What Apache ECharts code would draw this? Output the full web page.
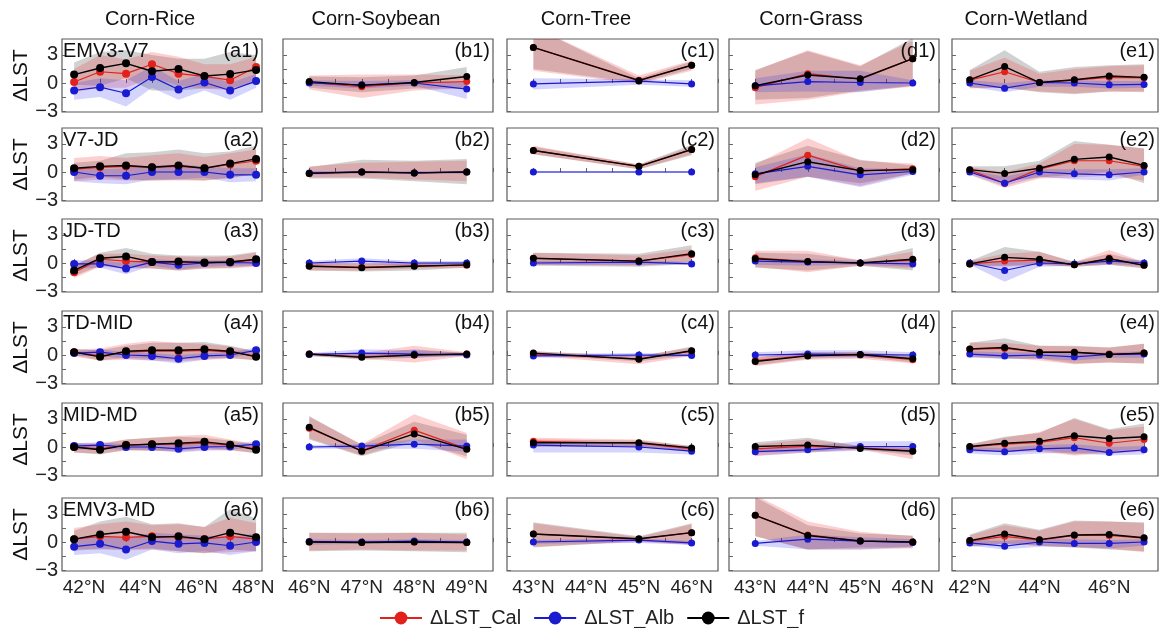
<!DOCTYPE html>
<html><head><meta charset="utf-8">
<script src="https://cdn.jsdelivr.net/npm/echarts@6/dist/echarts.min.js"></script>
<style>html,body{margin:0;padding:0;background:#fff}#c{width:1159px;height:628px}</style>
</head><body><div id="c"></div>
<script>
// ---------------- DATA ----------------
const columnTitles = ['Corn-Rice', 'Corn-Soybean', 'Corn-Tree', 'Corn-Grass', 'Corn-Wetland'];
const periods = ['EMV3-V7', 'V7-JD', 'JD-TD', 'TD-MID', 'MID-MD', 'EMV3-MD'];
const letters = ['a', 'b', 'c', 'd', 'e'];
const seriesNames = ['ΔLST_Cal', 'ΔLST_Alb', 'ΔLST_f'];
const yLabelValues = [-3, 0, 3];
const yTickValues = [-3, -1.5, 0, 1.5, 3];

const latA = [41.65, 42.57, 43.49, 44.41, 45.35, 46.27, 47.18, 48.1];
const latB = [46, 47, 48, 49];
const latC = [43, 45, 46];
const latD = [43, 44, 45, 46];
const latE = [42, 43, 44, 45, 46, 47];
const xLabelsA = [42, 44, 46, 48];
const xLabelsB = [46, 47, 48, 49];
const xLabelsC = [43, 44, 45, 46];
const xLabelsD = [43, 44, 45, 46];
const xLabelsE = [42, 44, 46];

// Column a (Corn-Rice), rows = periods
const calA = [[0.1,1.2,1.0,2.0,1.0,0.7,0.3,1.7],[0.3,0.5,0.6,0.5,0.6,0.4,0.8,1.2],[-1.0,0.4,0.2,0.1,0.1,0.0,0.1,0.3],[0.3,-0.1,0.3,0.4,0.4,0.5,0.3,-0.1],[0.0,-0.2,0.2,0.3,0.3,0.4,0.2,-0.2],[0.3,0.6,0.5,0.6,0.5,0.3,0.6,0.3]];
const calLoA = [[-1.0,-0.5,-0.5,0.6,-0.3,-0.6,-0.8,0.2],[-1.0,-0.8,-0.9,-0.9,-0.9,-0.9,-0.7,-0.2],[-1.6,-0.4,-0.6,-0.6,-0.8,-0.6,-0.6,-0.4],[-0.2,-0.6,-0.5,-0.6,-0.7,-0.5,-0.4,-0.5],[-0.6,-0.7,-0.4,-0.4,-0.5,-0.3,-0.4,-0.6],[-0.8,-0.7,-0.9,-0.8,-1.0,-1.2,-1.1,-1.0]];
const calHiA = [[1.5,3.0,2.5,3.3,2.8,2.0,2.0,2.8],[1.5,1.7,1.5,1.8,2.0,1.6,2.0,2.4],[-0.2,1.0,1.0,0.8,0.7,0.6,0.7,1.1],[0.6,0.7,1.2,1.5,1.3,1.2,0.9,0.4],[0.4,0.4,0.8,1.0,1.2,1.3,0.8,0.3],[1.5,1.9,2.2,1.8,1.9,1.6,2.6,2.0]];
const albA = [[-0.8,-0.45,-1.1,0.65,-0.7,0.05,-0.8,0.2],[0.0,-0.4,-0.4,0.0,0.0,0.0,-0.3,-0.3],[-0.1,-0.1,-0.6,0.1,-0.2,0.0,0.05,0.0],[0.2,0.3,0.0,-0.1,-0.4,-0.1,0.0,0.5],[0.1,0.2,0.0,0.0,-0.2,0.0,0.05,0.3],[-0.5,-0.2,-0.8,0.1,-0.2,-0.1,-0.4,0.0]];
const albLoA = [[-1.8,-1.5,-2.5,-0.5,-1.8,-0.8,-1.8,-0.5],[-1.0,-1.2,-1.3,-0.8,-0.8,-0.6,-1.1,-1.0],[-0.6,-0.5,-1.2,-0.3,-0.7,-0.4,-0.3,-0.3],[-0.1,-0.1,-0.4,-0.6,-0.9,-0.5,-0.3,0.2],[-0.3,-0.2,-0.3,-0.3,-0.6,-0.4,-0.3,0.0],[-1.4,-1.2,-1.9,-0.8,-1.2,-1.0,-1.4,-1.0]];
const albHiA = [[0.0,0.5,0.3,1.8,0.2,1.0,0.0,1.0],[0.5,0.3,0.4,0.7,0.8,0.6,0.4,0.4],[0.3,0.3,0.0,0.4,0.3,0.3,0.3,0.3],[0.4,0.6,0.3,0.2,0.0,0.2,0.3,0.8],[0.4,0.5,0.3,0.3,0.2,0.3,0.3,0.6],[0.3,0.6,0.4,1.0,0.8,0.7,0.5,0.9]];
const fA = [[0.9,1.6,2.1,1.25,1.5,0.75,0.95,1.4],[0.4,0.6,0.7,0.5,0.7,0.4,0.9,1.4],[-0.8,0.5,0.7,0.1,0.15,0.05,0.1,0.4],[0.3,-0.2,0.4,0.5,0.5,0.6,0.4,-0.2],[0.0,-0.3,0.2,0.3,0.4,0.55,0.25,-0.3],[0.3,0.8,1.1,0.5,0.6,0.3,1.0,0.5]];
const fLoA = [[-0.2,-0.3,0.5,-0.8,-0.8,-0.6,-0.6,0.0],[-0.8,-0.5,-0.8,-0.9,-0.8,-0.9,-0.6,-0.2],[-1.4,-0.3,-0.4,-0.6,-0.8,-0.6,-0.5,-0.3],[0.0,-0.6,-0.3,-0.4,-0.5,-0.3,-0.3,-0.6],[-0.6,-0.8,-0.3,-0.4,-0.4,-0.1,-0.3,-0.7],[-0.9,-0.8,-0.8,-0.7,-1.0,-1.2,-0.8,-1.0]];
const fHiA = [[2.2,3.3,3.5,3.0,2.6,2.6,3.3,3.0],[1.0,1.2,2.0,2.1,2.4,2.0,2.2,2.8],[-0.3,1.1,1.6,1.0,0.8,0.8,0.8,1.2],[0.6,0.5,1.0,1.3,1.3,1.4,1.0,0.4],[0.4,0.3,0.8,1.0,1.1,1.0,0.7,0.2],[1.2,2.2,2.7,1.9,2.0,1.6,3.5,2.5]];

// Column b (Corn-Soybean)
const calB = [[0.05,-0.4,0.0,0.15],[-0.15,0.0,-0.1,0.0],[-0.3,-0.45,-0.3,-0.25],[0.1,-0.2,0.0,0.1],[2.0,-0.4,1.8,-0.2],[0.0,-0.05,0.0,-0.05]];
const calLoB = [[-0.7,-1.6,-0.8,-0.6],[-0.6,-0.6,-0.8,-1.0],[-0.8,-0.8,-0.6,-0.5],[-0.1,-0.4,-0.8,-0.1],[0.9,-0.9,0.8,-1.3],[-0.9,-0.8,-0.9,-0.9]];
const calHiB = [[0.8,0.9,0.9,0.8],[0.6,1.0,1.1,1.2],[0.0,0.0,0.0,0.0],[0.2,0.2,1.0,0.3],[3.2,0.3,3.5,1.5],[1.0,0.9,1.0,0.8]];
const albB = [[0.0,-0.2,0.0,-0.65],[-0.1,0.0,-0.1,0.0],[0.0,0.2,0.0,0.0],[0.05,0.2,0.1,0.0],[0.0,0.1,0.3,0.1],[0.05,0.0,0.1,0.0]];
const albLoB = [[-0.3,-0.6,-0.3,-1.7],[-0.3,-0.2,-0.2,-0.2],[-0.2,-0.1,-0.3,-0.3],[-0.1,-0.2,-0.3,-0.1],[-0.2,-0.2,-0.2,-0.5],[-0.3,-0.2,-0.2,-0.2]];
const albHiB = [[0.3,0.2,0.3,0.0],[0.1,0.1,0.1,0.1],[0.2,0.5,0.2,0.2],[0.2,0.6,0.5,0.2],[0.2,0.3,0.8,0.8],[0.3,0.2,0.3,0.2]];
const fB = [[0.15,-0.25,0.05,0.7],[-0.15,0.0,-0.1,0.0],[-0.35,-0.5,-0.35,-0.2],[0.1,-0.25,0.0,0.1],[2.1,-0.45,1.4,-0.25],[0.0,-0.05,0.0,-0.05]];
const fLoB = [[-0.5,-1.0,-0.6,-0.6],[-0.7,-0.7,-1.0,-1.3],[-0.8,-0.9,-0.8,-0.5],[-0.1,-0.5,-0.3,0.0],[0.8,-1.0,0.5,-1.0],[-1.0,-0.9,-1.0,-1.1]];
const fHiB = [[0.7,0.6,0.8,1.7],[0.5,1.3,1.2,1.4],[0.0,-0.1,0.0,0.1],[0.2,0.1,0.6,0.2],[3.3,0.2,2.7,1.3],[1.0,1.0,1.0,1.0]];

// Column c (Corn-Tree)
const calC = [[3.8,0.3,1.9],[2.3,0.6,2.4],[0.5,0.2,0.9],[0.1,-0.4,0.4],[0.6,0.4,-0.2],[0.85,0.3,1.0]];
const calLoC = [[1.3,-0.1,1.3],[1.9,0.3,1.9],[-0.2,-0.3,0.1],[-0.1,-1.0,-0.1],[0.1,0.0,-0.5],[-0.5,0.0,-0.3]];
const calHiC = [[6.0,0.8,2.4],[2.8,0.8,2.7],[1.1,0.8,1.5],[0.4,-0.1,0.8],[1.0,0.8,0.1],[2.0,0.5,1.9]];
const albC = [[-0.1,0.2,-0.1],[0.0,0.0,0.0],[0.0,0.1,-0.1],[-0.1,0.0,-0.05],[0.2,0.0,-0.45],[0.0,0.2,-0.1]];
const albLoC = [[-0.7,-0.2,-0.4],[-0.1,-0.1,-0.1],[-0.2,-0.2,-0.2],[-0.3,-0.2,-0.2],[-0.6,-0.6,-0.8],[-0.2,-0.1,-0.3]];
const albHiC = [[0.5,0.4,0.3],[0.1,0.1,0.1],[0.2,0.3,0.1],[0.1,0.2,0.1],[0.5,0.4,0.0],[0.2,0.4,0.1]];
const fC = [[3.8,0.25,1.9],[2.3,0.6,2.4],[0.5,0.2,1.0],[0.2,-0.45,0.45],[0.45,0.45,-0.1],[0.85,0.35,1.0]];
const fLoC = [[1.5,0.0,1.5],[1.9,0.3,1.8],[-0.3,-0.4,-0.1],[0.0,-0.7,0.0],[0.0,0.0,-0.4],[-0.6,0.1,-0.3]];
const fHiC = [[6.0,0.5,2.3],[2.7,0.8,2.9],[1.1,1.0,1.9],[0.4,-0.2,0.9],[0.8,0.7,0.1],[2.1,0.6,2.0]];

// Column d (Corn-Grass)
const calD = [[-0.5,1.0,0.4,2.6],[-0.5,1.8,0.1,0.35],[0.55,0.15,0.0,0.3],[-0.6,-0.05,0.0,-0.5],[-0.2,0.1,-0.1,-0.4],[2.85,0.75,0.1,0.0]];
const calLoD = [[-2.3,-1.8,-0.9,-0.4],[-2.0,-0.5,-1.5,-0.1],[-0.4,-1.0,-0.3,-0.6],[-1.2,-0.5,-0.4,-0.9],[-1.0,-0.6,-0.3,-1.3],[0.6,-0.8,-0.8,-0.7]];
const calHiD = [[1.3,3.5,1.9,4.5],[0.8,3.6,1.2,0.9],[1.3,1.3,0.3,1.2],[-0.2,0.3,0.3,-0.1],[0.3,0.8,0.1,-0.1],[5.0,2.2,1.1,0.6]];
const albD = [[-0.3,0.15,0.05,0.0],[-0.2,0.6,-0.3,0.05],[0.2,0.1,0.0,-0.1],[0.0,0.1,0.05,0.0],[-0.5,-0.3,0.05,0.05],[-0.15,0.3,0.1,-0.05]];
const albLoD = [[-1.0,-0.9,-1.0,-0.3],[-1.2,-0.5,-1.6,-0.3],[-0.2,-0.3,-0.2,-0.4],[-0.2,-0.2,-0.3,-0.3],[-0.9,-0.6,-0.4,-0.6],[-0.4,-0.8,-0.8,-0.5]];
const albHiD = [[0.5,1.3,1.3,0.3],[0.5,1.9,0.4,0.3],[0.5,0.4,0.2,0.2],[0.3,0.5,0.5,0.3],[-0.2,0.1,0.6,0.6],[0.1,0.8,0.5,0.3]];
const fD = [[-0.3,0.85,0.45,2.6],[-0.3,1.1,0.15,0.25],[0.45,0.15,0.0,0.4],[-0.7,-0.1,0.05,-0.4],[0.05,0.2,-0.15,-0.45],[2.85,0.7,0.1,0.0]];
const fLoD = [[-1.8,-1.6,-0.8,-0.3],[-1.3,-0.5,-1.2,-0.2],[-0.5,-0.8,-0.3,-0.8],[-1.1,-0.4,-0.2,-0.8],[-0.6,-0.5,-0.2,-0.9],[0.6,-0.8,-0.6,-0.6]];
const fHiD = [[1.4,3.4,1.8,4.8],[1.0,2.8,1.3,0.7],[1.1,1.0,0.3,1.6],[-0.3,0.3,0.3,0.0],[0.5,1.0,0.1,0.0],[4.8,1.8,0.9,0.7]];

// Column e (Corn-Wetland)
const calE = [[0.3,1.2,0.05,0.3,0.6,0.55],[0.2,-1.2,0.3,1.2,1.2,0.6],[-0.1,0.2,0.3,-0.2,0.5,-0.25],[0.6,0.7,0.3,0.3,0.1,0.2],[0.0,0.3,0.5,1.0,0.4,0.8],[0.1,0.6,0.2,0.7,0.7,0.4]];
const calLoE = [[-0.6,-0.5,-0.9,-1.1,-0.9,-1.0],[-0.3,-1.7,-0.7,-0.6,-0.4,-0.9],[-0.3,-0.4,-0.2,-0.4,-0.2,-0.5],[-0.2,-0.3,-0.6,-1.0,-0.8,-0.9],[-0.5,-0.5,-0.5,-0.9,-0.7,-0.5],[-0.4,-0.2,-0.4,-0.6,-0.7,-1.1]];
const calHiE = [[1.3,2.7,1.0,1.5,1.8,1.9],[0.5,0.0,0.9,3.0,2.9,2.5],[0.2,1.0,1.2,0.1,1.4,0.1],[1.3,1.3,1.0,0.9,0.8,1.2],[0.3,1.0,1.6,3.0,1.8,2.2],[0.7,1.8,1.2,2.2,2.2,2.0]];
const albE = [[0.0,-0.55,0.05,0.0,-0.2,-0.15],[0.0,-1.2,0.0,-0.2,-0.3,0.0],[0.0,-0.8,0.0,-0.1,0.2,0.0],[0.1,-0.1,0.0,-0.2,0.05,0.1],[-0.3,-0.5,-0.2,-0.1,-0.6,-0.3],[-0.1,-0.45,0.0,-0.15,-0.15,0.0]];
const albLoE = [[-0.4,-1.0,-0.4,-0.4,-0.6,-0.5],[-0.3,-1.5,-0.5,-0.8,-0.9,-0.3],[-0.2,-2.0,-0.4,-0.3,-0.1,-0.3],[-0.3,-0.4,-0.4,-0.6,-0.3,-0.3],[-0.7,-0.9,-0.7,-0.6,-0.9,-0.8],[-0.4,-0.8,-0.5,-0.5,-0.7,-0.4]];
const albHiE = [[0.3,0.0,0.3,0.3,0.2,0.2],[0.2,-0.5,0.3,0.3,0.3,0.4],[0.2,0.1,0.3,0.1,0.4,0.3],[0.4,0.3,0.3,0.2,0.3,0.4],[0.0,-0.1,0.2,0.3,0.0,0.1],[0.2,0.1,0.4,0.3,0.2,0.3]];
const fE = [[0.35,1.75,0.05,0.35,0.75,0.6],[0.25,-0.15,0.4,1.35,1.6,0.7],[-0.1,0.6,0.4,-0.2,0.45,-0.25],[0.65,0.8,0.3,0.3,0.05,0.2],[0.05,0.4,0.6,1.2,0.9,1.1],[0.15,0.85,0.25,0.75,0.8,0.45]];
const fLoE = [[-0.5,-0.5,-1.0,-1.2,-0.9,-0.9],[-0.2,-1.0,-0.6,-0.3,0.0,-1.2],[-0.3,-0.3,-0.2,-0.4,-0.2,-0.6],[-0.2,-0.4,-0.4,-0.9,-0.8,-0.9],[-0.3,-0.5,-0.3,-0.8,-0.5,-0.2],[-0.5,-0.2,-0.4,-0.6,-0.8,-1.0]];
const fHiE = [[1.4,3.5,1.2,1.7,1.9,2.0],[0.6,0.6,1.2,3.3,2.9,2.5],[0.2,1.7,1.2,0.1,1.0,0.1],[1.3,1.8,1.0,1.0,0.8,1.2],[0.3,1.1,1.5,3.1,1.9,2.5],[0.8,2.0,1.3,2.3,2.2,2.1]];

// ---------------- LAYOUT / STYLE ----------------
const FONT = '"Liberation Sans", Arial, sans-serif';
const colLeft = [62, 283, 507, 729, 952];
const colWidth = [200, 210, 211, 210, 206];
const rowTop = [39, 128, 219, 311, 403, 498];
const rowH = 73;
const xRange = [[41.22, 48.31], [45.5, 49.5], [42.5, 46.5], [42.5, 46.5], [41.49, 47.4]];
const titleX = [150, 376, 586, 811, 1026];
const COL_RED = '#e3211c', COL_BLUE = '#1a1ad0', COL_BLACK = '#000000';
const BAND_RED = 'rgba(240,40,40,0.22)', BAND_BLUE = 'rgba(40,40,240,0.2)', BAND_GRAY = 'rgba(0,0,0,0.18)';

const cols = [
  {lat: latA, labels: xLabelsA, cal: calA, calLo: calLoA, calHi: calHiA, alb: albA, albLo: albLoA, albHi: albHiA, f: fA, fLo: fLoA, fHi: fHiA},
  {lat: latB, labels: xLabelsB, cal: calB, calLo: calLoB, calHi: calHiB, alb: albB, albLo: albLoB, albHi: albHiB, f: fB, fLo: fLoB, fHi: fHiB},
  {lat: latC, labels: xLabelsC, cal: calC, calLo: calLoC, calHi: calHiC, alb: albC, albLo: albLoC, albHi: albHiC, f: fC, fLo: fLoC, fHi: fHiC},
  {lat: latD, labels: xLabelsD, cal: calD, calLo: calLoD, calHi: calHiD, alb: albD, albLo: albLoD, albHi: albHiD, f: fD, fLo: fLoD, fHi: fHiD},
  {lat: latE, labels: xLabelsE, cal: calE, calLo: calLoE, calHi: calHiE, alb: albE, albLo: albLoE, albHi: albHiE, f: fE, fLo: fLoE, fHi: fHiE}
];

function halfTicks(min, max) {
  const t = [];
  for (let v = Math.ceil(min * 2) / 2; v <= max + 1e-9; v += 0.5) t.push(v);
  return t;
}

function bandSeries(k, xs, lo, hi, color) {
  const data = xs.map((x, n) => [x, lo[n], hi[n]]);
  return {
    type: 'custom', xAxisIndex: k, yAxisIndex: k, clip: true, silent: true, z: 1,
    data: data, encode: {x: 0, y: [1, 2]},
    renderItem: function (params, api) {
      if (params.dataIndex !== 0) return null;
      const up = data.map(d => api.coord([d[0], d[2]]));
      const dn = data.map(d => api.coord([d[0], d[1]])).reverse();
      return {type: 'polygon', shape: {points: up.concat(dn)}, style: {fill: color}};
    }
  };
}
function lineSeries(k, name, xs, vals, color, size, width, z) {
  return {
    type: 'line', name: name, xAxisIndex: k, yAxisIndex: k, clip: true, z: z,
    data: xs.map((x, n) => [x, vals[n]]),
    symbol: 'circle', symbolSize: size, showSymbol: true,
    lineStyle: {color: color, width: width}, itemStyle: {color: color}
  };
}

const grids = [], xAxes = [], yAxes = [], series = [], graphics = [];
for (let r = 0; r < 6; r++) {
  for (let c = 0; c < 5; c++) {
    const k = grids.length;
    const col = cols[c];
    grids.push({left: colLeft[c], top: rowTop[r], width: colWidth[c], height: rowH,
      show: true, borderColor: '#5a5a5a', borderWidth: 1.2, backgroundColor: 'transparent'});
    const xt = (c === 0 || c === 4) ? col.lat : halfTicks(xRange[c][0], xRange[c][1]);
    xAxes.push({gridIndex: k, type: 'value', min: xRange[c][0], max: xRange[c][1],
      axisLine: {show: false}, splitLine: {show: false},
      axisTick: {show: true, inside: true, length: 4, customValues: xt, lineStyle: {color: '#666'}},
      axisLabel: {show: r === 5, customValues: col.labels, formatter: v => v + '°N',
        fontSize: 19, color: '#222', margin: 7, fontFamily: FONT}});
    yAxes.push({gridIndex: k, type: 'value', min: -3.1, max: 4.7,
      axisLine: {show: false}, splitLine: {show: false},
      axisTick: {show: true, inside: true, length: 4, customValues: yTickValues, lineStyle: {color: '#666'}},
      axisLabel: {show: c === 0, customValues: yLabelValues, formatter: v => (v < 0 ? '\u2212' + Math.abs(v) : String(v)),
        fontSize: 20, color: '#222', margin: 4, fontFamily: FONT},
      name: c === 0 ? 'ΔLST' : '', nameLocation: 'middle', nameGap: 27, nameRotate: 90,
      nameTextStyle: {fontSize: 21, color: '#111', fontFamily: FONT}});
    const rr = r;
    series.push(bandSeries(k, col.lat, col.fLo[rr], col.fHi[rr], BAND_GRAY));
    series.push(bandSeries(k, col.lat, col.calLo[rr], col.calHi[rr], BAND_RED));
    series.push(bandSeries(k, col.lat, col.albLo[rr], col.albHi[rr], BAND_BLUE));
    const ms = c === 0 ? 8 : 7;
    series.push(lineSeries(k, seriesNames[0], col.lat, col.cal[rr], COL_RED, ms, 1.2, 3));
    series.push(lineSeries(k, seriesNames[1], col.lat, col.alb[rr], COL_BLUE, ms, 1.2, 4));
    series.push(lineSeries(k, seriesNames[2], col.lat, col.f[rr], COL_BLACK, ms, 1.4, 5));
    // panel id
    graphics.push({type: 'text', x: colLeft[c] + colWidth[c] - 3, y: rowTop[r] + 2, z: 10,
      style: {text: '(' + letters[c] + (r + 1) + ')', fill: '#111', font: '20px ' + FONT, align: 'right', verticalAlign: 'top'}});
  }
  graphics.push({type: 'text', x: colLeft[0] + 1, y: rowTop[r] + 2, z: 10,
    style: {text: periods[r], fill: '#111', font: '20px ' + FONT, align: 'left', verticalAlign: 'top'}});
}
for (let c = 0; c < 5; c++) {
  graphics.push({type: 'text', x: titleX[c], y: 19, z: 10,
    style: {text: columnTitles[c], fill: '#111', font: '20px ' + FONT, align: 'center', verticalAlign: 'middle'}});
}

const chart = echarts.init(document.getElementById('c'), null, {renderer: 'canvas'});
chart.setOption({
  animation: false,
  backgroundColor: '#fff',
  textStyle: {fontFamily: FONT},
  grid: grids, xAxis: xAxes, yAxis: yAxes, series: series, graphic: graphics,
  legend: {left: 374, top: 603, itemWidth: 42, itemHeight: 16, itemGap: 12,
    textStyle: {fontSize: 20, color: '#222', fontFamily: FONT, padding: [0, 0, 0, 3]},
    data: [
      {name: seriesNames[0], lineStyle: {width: 2}},
      {name: seriesNames[1], lineStyle: {width: 2}},
      {name: seriesNames[2], lineStyle: {width: 2}}
    ]}
});
</script></body></html>
